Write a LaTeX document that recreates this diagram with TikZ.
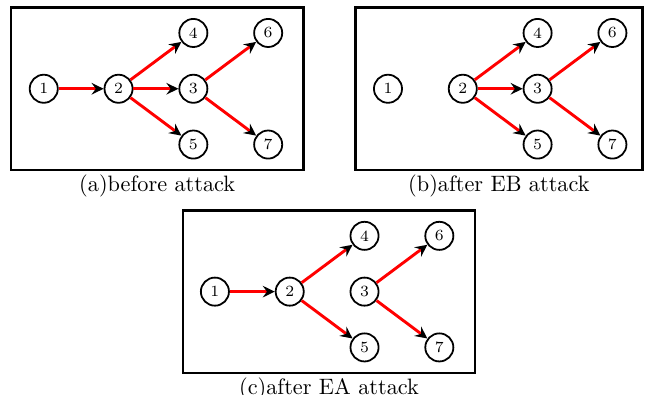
\documentclass[tikz,border=0pt]{standalone}
\usepackage{tikz}
\usetikzlibrary{positioning,arrows.meta}
\definecolor{linkred}{RGB}{255,0,0}

\begin{document}
\begin{tikzpicture}[
  node distance=0.88cm and 1.18cm, on grid,
  vertex/.style={circle, draw, thick, minimum size=12.6pt, inner sep=0pt, font=\scriptsize},
  link/.style={draw=linkred, line width=1.3pt, -{Stealth[length=5.4pt, width=5.2pt, inset=1.9pt, color=black]}},
  panel/.style={draw, line width=1.1pt, minimum height=2.56cm},
  caption/.style={anchor=north, inner sep=1.5pt}
]
\useasboundingbox (0,0) rectangle (10.19,-6.23);

% frames
\node[panel, minimum width=4.61cm] (fa) at (2.48,-1.40) {};
\node[panel, minimum width=4.53cm] (fb) at (7.87,-1.40) {};
\node[panel, minimum width=4.61cm] (fc) at (5.19,-4.60) {};

\node[caption] (capa) at (fa.south) {(a)before attack};
\node[caption] (capb) at (fb.south) {(b)after EB attack};
\node[caption] (capc) at (fc.south) {(c)after EA attack};

% same seven vertices in every panel
\foreach \p/\x/\y in {a/0.69/-1.40, b/6.12/-1.40, c/3.39/-4.60} {
  \node[vertex] (\p1) at (\x,\y) {1};
  \node[vertex, right=of \p1] (\p2) {2};
  \node[vertex, right=of \p2] (\p3) {3};
  \node[vertex, above=of \p3] (\p4) {4};
  \node[vertex, below=of \p3] (\p5) {5};
  \node[vertex, right=of \p4] (\p6) {6};
  \node[vertex, right=of \p5] (\p7) {7};
}

% (a) before attack
\draw[link] (a1) -- (a2);
\draw[link] (a2) -- (a4);
\draw[link] (a2) -- (a3);
\draw[link] (a2) -- (a5);
\draw[link] (a3) -- (a6);
\draw[link] (a3) -- (a7);

% (b) edge 1-2 removed
\draw[link] (b2) -- (b4);
\draw[link] (b2) -- (b3);
\draw[link] (b2) -- (b5);
\draw[link] (b3) -- (b6);
\draw[link] (b3) -- (b7);

% (c) edge 2-3 removed
\draw[link] (c1) -- (c2);
\draw[link] (c2) -- (c4);
\draw[link] (c2) -- (c5);
\draw[link] (c3) -- (c6);
\draw[link] (c3) -- (c7);

\end{tikzpicture}
\end{document}
